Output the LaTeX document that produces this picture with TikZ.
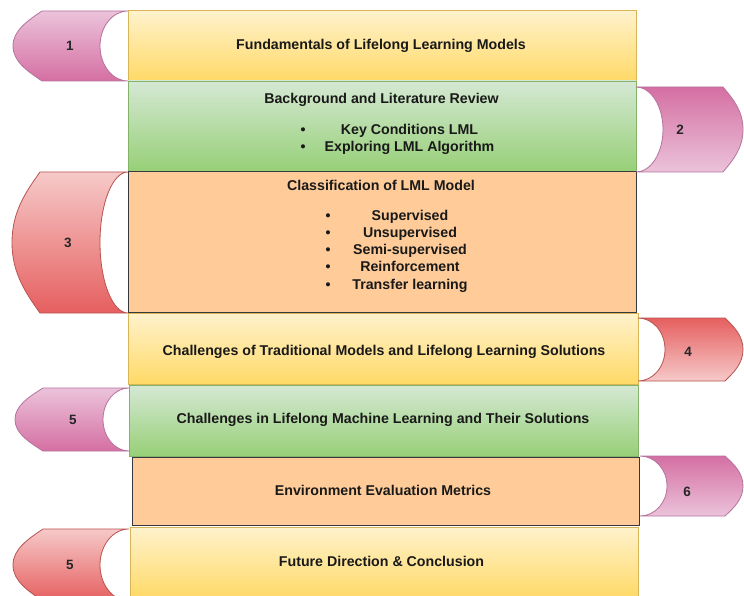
\documentclass[tikz,border=0pt]{standalone}
\usepackage{fontspec}
\setmainfont{Liberation Sans}
\definecolor{ytop}{HTML}{FFF2CC}
\definecolor{ybot}{HTML}{FFD966}
\definecolor{yline}{HTML}{D6B656}
\definecolor{gtop}{HTML}{D5E8D4}
\definecolor{gbot}{HTML}{97D077}
\definecolor{gline}{HTML}{82B366}
\definecolor{ofill}{HTML}{FFCC99}
\definecolor{oline}{HTML}{36393D}
\definecolor{plight}{HTML}{EBC3DA}
\definecolor{pdark}{HTML}{D56FA3}
\definecolor{pline}{HTML}{B5739D}
\definecolor{rlight}{HTML}{F6C9C9}
\definecolor{rdark}{HTML}{E65F5F}
\definecolor{rline}{HTML}{B85450}
\newcommand\lefttab[7]{% R C T D t b style
  \pgfmathsetmacro\tm{(#5+#6)/2}%
  \pgfmathsetmacro\th{#6-#5}%
  \pgfmathsetmacro\ca{#2-0.5*(#2-#3)}%
  \pgfmathsetmacro\cu{#5+0.14*\th}%
  \pgfmathsetmacro\cv{\tm-0.22*\th}%
  \pgfmathsetmacro\cw{\tm+0.22*\th}%
  \pgfmathsetmacro\cz{#6-0.14*\th}%
  \pgfmathsetmacro\ex{#1-0.5523*(#1-#4)}%
  \pgfmathsetmacro\eyb{\tm+0.5523*\th/2}%
  \pgfmathsetmacro\eyt{\tm-0.5523*\th/2}%
  \path[#7] (#1,#5) -- (#2,#5) .. controls (\ca,\cu) and (#3,\cv) .. (#3,\tm)
    .. controls (#3,\cw) and (\ca,\cz) .. (#2,#6) -- (#1,#6)
    .. controls (\ex,#6) and (#4,\eyb) .. (#4,\tm)
    .. controls (#4,\eyt) and (\ex,#5) .. (#1,#5) -- cycle;}
\newcommand\righttab[7]{% L C T D t b style
  \pgfmathsetmacro\tm{(#5+#6)/2}%
  \pgfmathsetmacro\th{#6-#5}%
  \pgfmathsetmacro\ca{#2+0.5*(#3-#2)}%
  \pgfmathsetmacro\cu{#5+0.14*\th}%
  \pgfmathsetmacro\cv{\tm-0.22*\th}%
  \pgfmathsetmacro\cw{\tm+0.22*\th}%
  \pgfmathsetmacro\cz{#6-0.14*\th}%
  \pgfmathsetmacro\ex{#1+0.5523*(#4-#1)}%
  \pgfmathsetmacro\eyb{\tm+0.5523*\th/2}%
  \pgfmathsetmacro\eyt{\tm-0.5523*\th/2}%
  \path[#7] (#1,#5) -- (#2,#5) .. controls (\ca,\cu) and (#3,\cv) .. (#3,\tm)
    .. controls (#3,\cw) and (\ca,\cz) .. (#2,#6) -- (#1,#6)
    .. controls (\ex,#6) and (#4,\eyb) .. (#4,\tm)
    .. controls (#4,\eyt) and (\ex,#5) .. (#1,#5) -- cycle;}
\begin{document}
\begin{tikzpicture}[x=1pt,y=-1pt,
  txt/.style={font=\fontsize{14.2}{16}\selectfont\bfseries, inner sep=0pt, text=black!90, text height=10.4pt, text depth=3pt},
  numtxt/.style={font=\fontsize{13.5}{15}\selectfont\bfseries, inner sep=0pt, text=black!85},
  boxbase/.style={rectangle, inner sep=0pt, outer sep=0pt, line width=0.9pt},
  ybox/.style={boxbase, draw=yline, top color=ytop, bottom color=ybot},
  gbox/.style={boxbase, draw=gline, top color=gtop, bottom color=gbot},
  obox/.style={boxbase, draw=oline, fill=ofill},
  ptabd/.style={draw=pline, line width=0.8pt, top color=plight, bottom color=pdark},
  ptabu/.style={draw=pline, line width=0.8pt, top color=pdark, bottom color=plight},
  rtabd/.style={draw=rline, line width=0.8pt, top color=rlight, bottom color=rdark},
  rtabu/.style={draw=rline, line width=0.8pt, top color=rdark, bottom color=rlight}]
\useasboundingbox (0,0) rectangle (744,596);
\clip (0,0) rectangle (744,596);
\fill[white] (0,0) rectangle (744,596);
% boxes
\node[ybox, minimum width=508, minimum height=71] (b1) at (382,46) {};
\node[gbox, minimum width=508, minimum height=90] (b2) at (382,126) {};
\node[obox, minimum width=508, minimum height=141] (b3) at (382,242) {};
\node[ybox, minimum width=510, minimum height=71] (b4) at (383,349) {};
\node[gbox, minimum width=509, minimum height=71] (b5) at (383.5,420.5) {};
\node[obox, minimum width=507, minimum height=68] (b6) at (385.5,491) {};
\node[ybox, minimum width=508, minimum height=72] (b7) at (384,563) {};
% texts
\node[txt] (t1) at (381,46) {Fundamentals of Lifelong Learning Models};
\node[txt] (t2) at (381.5,100) {Background and Literature Review};
\node[txt] (t2a) at (409.5,131) {Key Conditions LML};
\node[txt] (t2b) at (409.5,148) {Exploring LML Algorithm};
\node[txt] (d2a) at (303,131) {\textbullet};
\node[txt] (d2b) at (303,148) {\textbullet};
\node[txt] (t3) at (381,187) {Classification of LML Model};
\node[txt] (t3a) at (410,217) {Supervised};
\node[txt] (t3b) at (410,234) {Unsupervised};
\node[txt] (t3c) at (410,251) {Semi-supervised};
\node[txt] (t3d) at (410,268) {Reinforcement};
\node[txt] (t3e) at (410,286) {Transfer learning};
\node[txt] (d3a) at (328,217) {\textbullet};
\node[txt] (d3b) at (328,234) {\textbullet};
\node[txt] (d3c) at (328,251) {\textbullet};
\node[txt] (d3d) at (328,268) {\textbullet};
\node[txt] (d3e) at (328,286) {\textbullet};
\node[txt] (t4) at (384,352) {Challenges of Traditional Models and Lifelong Learning Solutions};
\node[txt] (t5) at (383,420) {Challenges in Lifelong Machine Learning and Their Solutions};
\node[txt] (t6) at (383,492) {Environment Evaluation Metrics};
\node[txt] (t7) at (381.5,563) {Future Direction \& Conclusion};
% tabs
\lefttab{128}{42}{13}{100}{11}{81}{ptabd}
\righttab{636}{723}{743}{663}{87}{172}{ptabu}
\lefttab{128}{40}{12}{100}{172}{313}{rtabd}
\righttab{638}{725}{743}{665}{318}{381}{rtabu}
\lefttab{129}{43}{15}{103}{388}{451}{ptabd}
\righttab{640}{725}{743}{667}{456}{516}{ptabu}
\lefttab{129}{43}{13}{100}{529}{601}{rtabd}
% tab labels
\node[numtxt] (n1) at (70,46) {1};
\node[numtxt] (n2) at (680,130) {2};
\node[numtxt] (n3) at (68,243) {3};
\node[numtxt] (n4) at (688,352) {4};
\node[numtxt] (n5) at (73,420) {5};
\node[numtxt] (n6) at (687,492) {6};
\node[numtxt] (n7) at (70,565) {5};
\end{tikzpicture}
\end{document}
